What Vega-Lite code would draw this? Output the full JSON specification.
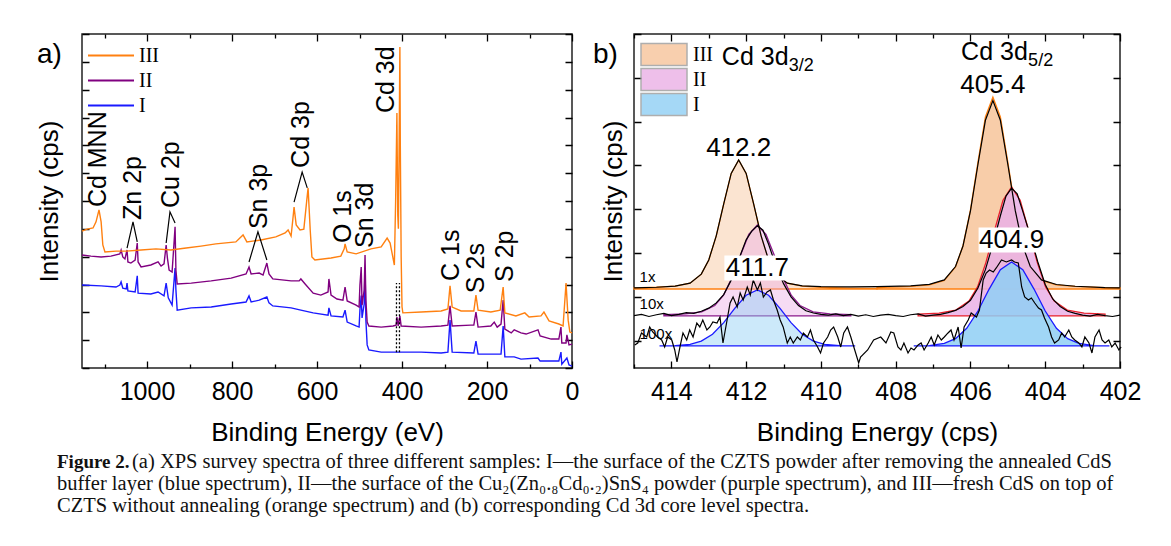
{
  "$schema": "https://vega.github.io/schema/vega-lite/v6.json",
  "padding": {"left": 35, "top": 33, "right": 5, "bottom": 0},
  "columns": 2,
  "align": "none",
  "bounds": "flush",
  "spacing": {"row": 20, "column": 62},
  "config": {
    "font": "Liberation Sans",
    "view": {"stroke": "#222", "strokeWidth": 1.5},
    "axis": {
      "domain": false, "ticks": false, "grid": true,
      "gridColor": "#000", "gridWidth": 1.3, "gridOpacity": 1,
      "labelColor": "#000", "titleColor": "#000",
      "labelFont": "Liberation Sans", "titleFont": "Liberation Sans",
      "labelFontSize": 25, "titleFontSize": 26, "titleFontWeight": "normal",
      "labelOverlap": false, "labelFlush": false
    }
  },
  "datasets": {
    "caption": [
      {"line": 1, "part": "head", "txt": "Figure 2."},
      {"line": 1, "part": "body", "txt": "(a) XPS survey spectra of three different samples: I—the surface of the CZTS powder after removing the annealed CdS"},
      {"line": 2, "part": "body", "txt": "buffer layer (blue spectrum), II—the surface of the Cu₂(Zn₀.₈Cd₀.₂)SnS₄ powder (purple spectrum), and III—fresh CdS on top of"},
      {"line": 3, "part": "body", "txt": "CZTS without annealing (orange spectrum) and (b) corresponding Cd 3d core level spectra."}
    ],
    "survey": [
      {"s":"I","e":1153,"i":29.8},{"s":"I","e":1108,"i":29.5},{"s":"I","e":1073,"i":29.1},{"s":"I","e":1064,"i":29.8},{"s":"I","e":1061,"i":30.9},{"s":"I","e":1057,"i":28.7},{"s":"I","e":1049,"i":28.4},{"s":"I","e":1047,"i":30.5},{"s":"I","e":1045,"i":27.7},{"s":"I","e":1028,"i":27.3},{"s":"I","e":1023,"i":33.1},{"s":"I","e":1021,"i":26.9},{"s":"I","e":991,"i":26.6},{"s":"I","e":974,"i":27.3},{"s":"I","e":960,"i":25.9},{"s":"I","e":955,"i":30.5},{"s":"I","e":950,"i":25.2},{"s":"I","e":941,"i":22.6},{"s":"I","e":934,"i":35.9},{"s":"I","e":932,"i":28.0},{"s":"I","e":929,"i":20.8},{"s":"I","e":896,"i":21.6},{"s":"I","e":849,"i":21.9},{"s":"I","e":802,"i":23.0},{"s":"I","e":767,"i":23.7},{"s":"I","e":760,"i":25.9},{"s":"I","e":755,"i":23.7},{"s":"I","e":736,"i":24.4},{"s":"I","e":718,"i":25.5},{"s":"I","e":713,"i":23.4},{"s":"I","e":704,"i":22.3},{"s":"I","e":661,"i":21.6},{"s":"I","e":638,"i":20.8},{"s":"I","e":609,"i":19.8},{"s":"I","e":574,"i":19.0},{"s":"I","e":572,"i":21.6},{"s":"I","e":567,"i":18.7},{"s":"I","e":539,"i":18.3},{"s":"I","e":534,"i":20.8},{"s":"I","e":529,"i":16.5},{"s":"I","e":508,"i":15.1},{"s":"I","e":501,"i":14.7},{"s":"I","e":499,"i":20.8},{"s":"I","e":496,"i":26.0},{"s":"I","e":494,"i":18.0},{"s":"I","e":489,"i":23.0},{"s":"I","e":487,"i":36.0},{"s":"I","e":485,"i":17.2},{"s":"I","e":482,"i":8.3},{"s":"I","e":478,"i":6.5},{"s":"I","e":449,"i":5.7},{"s":"I","e":402,"i":5.7},{"s":"I","e":355,"i":5.7},{"s":"I","e":308,"i":5.4},{"s":"I","e":292,"i":5.7},{"s":"I","e":287,"i":17.2},{"s":"I","e":282,"i":5.7},{"s":"I","e":231,"i":5.4},{"s":"I","e":226,"i":9.7},{"s":"I","e":221,"i":5.0},{"s":"I","e":183,"i":5.0},{"s":"I","e":167,"i":5.0},{"s":"I","e":162,"i":15.1},{"s":"I","e":158,"i":4.0},{"s":"I","e":136,"i":4.0},{"s":"I","e":120,"i":3.2},{"s":"I","e":80,"i":3.6},{"s":"I","e":75,"i":2.5},{"s":"I","e":49,"i":2.5},{"s":"I","e":31,"i":2.5},{"s":"I","e":26,"i":5.7},{"s":"I","e":24,"i":1.4},{"s":"I","e":12,"i":3.6},{"s":"I","e":7,"i":1.1},{"s":"I","e":0,"i":0.7},
      {"s":"II","e":1153,"i":40.6},{"s":"II","e":1132,"i":40.2},{"s":"II","e":1108,"i":39.9},{"s":"II","e":1085,"i":40.2},{"s":"II","e":1064,"i":41.0},{"s":"II","e":1061,"i":42.4},{"s":"II","e":1057,"i":39.9},{"s":"II","e":1052,"i":39.2},{"s":"II","e":1047,"i":42.4},{"s":"II","e":1045,"i":38.1},{"s":"II","e":1038,"i":37.7},{"s":"II","e":1028,"i":38.8},{"s":"II","e":1023,"i":44.9},{"s":"II","e":1021,"i":38.1},{"s":"II","e":1014,"i":36.3},{"s":"II","e":991,"i":37.0},{"s":"II","e":974,"i":38.1},{"s":"II","e":967,"i":36.6},{"s":"II","e":960,"i":37.4},{"s":"II","e":955,"i":44.2},{"s":"II","e":952,"i":39.5},{"s":"II","e":948,"i":35.2},{"s":"II","e":941,"i":34.5},{"s":"II","e":936,"i":46.0},{"s":"II","e":934,"i":50.7},{"s":"II","e":932,"i":35.2},{"s":"II","e":929,"i":30.2},{"s":"II","e":896,"i":30.5},{"s":"II","e":849,"i":31.3},{"s":"II","e":802,"i":32.3},{"s":"II","e":767,"i":33.8},{"s":"II","e":760,"i":36.3},{"s":"II","e":755,"i":33.8},{"s":"II","e":736,"i":34.1},{"s":"II","e":727,"i":33.4},{"s":"II","e":718,"i":37.7},{"s":"II","e":713,"i":33.8},{"s":"II","e":704,"i":32.0},{"s":"II","e":661,"i":31.3},{"s":"II","e":642,"i":31.3},{"s":"II","e":638,"i":32.0},{"s":"II","e":628,"i":30.2},{"s":"II","e":609,"i":26.9},{"s":"II","e":591,"i":26.2},{"s":"II","e":574,"i":27.3},{"s":"II","e":572,"i":32.0},{"s":"II","e":567,"i":26.2},{"s":"II","e":553,"i":24.8},{"s":"II","e":539,"i":24.4},{"s":"II","e":534,"i":29.1},{"s":"II","e":529,"i":24.1},{"s":"II","e":508,"i":22.6},{"s":"II","e":501,"i":21.9},{"s":"II","e":499,"i":29.8},{"s":"II","e":496,"i":36.3},{"s":"II","e":494,"i":22.6},{"s":"II","e":489,"i":28.0},{"s":"II","e":487,"i":40.6},{"s":"II","e":485,"i":24.4},{"s":"II","e":482,"i":16.5},{"s":"II","e":478,"i":15.1},{"s":"II","e":449,"i":14.7},{"s":"II","e":421,"i":15.1},{"s":"II","e":414,"i":15.4},{"s":"II","e":412,"i":18.3},{"s":"II","e":409,"i":15.1},{"s":"II","e":405,"i":18.7},{"s":"II","e":402,"i":15.1},{"s":"II","e":355,"i":14.7},{"s":"II","e":308,"i":15.1},{"s":"II","e":292,"i":15.4},{"s":"II","e":287,"i":22.3},{"s":"II","e":282,"i":15.1},{"s":"II","e":238,"i":15.4},{"s":"II","e":231,"i":15.4},{"s":"II","e":226,"i":20.1},{"s":"II","e":221,"i":14.7},{"s":"II","e":191,"i":15.1},{"s":"II","e":183,"i":16.5},{"s":"II","e":176,"i":14.7},{"s":"II","e":167,"i":15.8},{"s":"II","e":162,"i":24.4},{"s":"II","e":158,"i":14.0},{"s":"II","e":143,"i":12.6},{"s":"II","e":136,"i":13.7},{"s":"II","e":120,"i":12.6},{"s":"II","e":108,"i":12.2},{"s":"II","e":80,"i":13.7},{"s":"II","e":75,"i":11.5},{"s":"II","e":49,"i":10.4},{"s":"II","e":31,"i":10.4},{"s":"II","e":26,"i":14.7},{"s":"II","e":24,"i":9.0},{"s":"II","e":14,"i":9.0},{"s":"II","e":12,"i":11.9},{"s":"II","e":7,"i":8.3},{"s":"II","e":0,"i":8.6},
      {"s":"III","e":1153,"i":49.2},{"s":"III","e":1141,"i":49.9},{"s":"III","e":1127,"i":50.3},{"s":"III","e":1120,"i":52.5},{"s":"III","e":1113,"i":56.8},{"s":"III","e":1108,"i":52.5},{"s":"III","e":1104,"i":44.2},{"s":"III","e":1099,"i":41.7},{"s":"III","e":1073,"i":42.0},{"s":"III","e":1049,"i":42.0},{"s":"III","e":1014,"i":42.4},{"s":"III","e":979,"i":42.8},{"s":"III","e":944,"i":42.4},{"s":"III","e":908,"i":43.1},{"s":"III","e":873,"i":43.8},{"s":"III","e":838,"i":44.6},{"s":"III","e":791,"i":45.3},{"s":"III","e":774,"i":47.8},{"s":"III","e":765,"i":45.3},{"s":"III","e":732,"i":46.0},{"s":"III","e":697,"i":47.1},{"s":"III","e":675,"i":48.5},{"s":"III","e":668,"i":49.6},{"s":"III","e":661,"i":47.4},{"s":"III","e":657,"i":53.2},{"s":"III","e":654,"i":57.8},{"s":"III","e":649,"i":51.4},{"s":"III","e":640,"i":49.6},{"s":"III","e":631,"i":49.9},{"s":"III","e":624,"i":60.4},{"s":"III","e":621,"i":64.7},{"s":"III","e":616,"i":49.6},{"s":"III","e":612,"i":39.9},{"s":"III","e":605,"i":38.8},{"s":"III","e":567,"i":39.5},{"s":"III","e":544,"i":40.2},{"s":"III","e":536,"i":42.8},{"s":"III","e":534,"i":44.6},{"s":"III","e":529,"i":41.7},{"s":"III","e":508,"i":41.0},{"s":"III","e":473,"i":42.8},{"s":"III","e":449,"i":43.5},{"s":"III","e":435,"i":46.7},{"s":"III","e":428,"i":44.9},{"s":"III","e":418,"i":37.0},{"s":"III","e":415,"i":60.0},{"s":"III","e":412,"i":91.6},{"s":"III","e":410,"i":55.0},{"s":"III","e":408.5,"i":50.0},{"s":"III","e":407,"i":75.0},{"s":"III","e":405,"i":115.3},{"s":"III","e":404,"i":80.0},{"s":"III","e":402,"i":40.0},{"s":"III","e":400,"i":22.0},{"s":"III","e":398,"i":19.8},{"s":"III","e":355,"i":20.1},{"s":"III","e":308,"i":20.5},{"s":"III","e":292,"i":21.2},{"s":"III","e":287,"i":29.5},{"s":"III","e":282,"i":21.9},{"s":"III","e":261,"i":20.5},{"s":"III","e":231,"i":20.5},{"s":"III","e":226,"i":26.2},{"s":"III","e":221,"i":20.8},{"s":"III","e":191,"i":20.1},{"s":"III","e":169,"i":20.8},{"s":"III","e":162,"i":29.1},{"s":"III","e":158,"i":19.8},{"s":"III","e":132,"i":18.7},{"s":"III","e":111,"i":19.8},{"s":"III","e":101,"i":18.3},{"s":"III","e":73,"i":18.7},{"s":"III","e":66,"i":20.1},{"s":"III","e":54,"i":16.9},{"s":"III","e":31,"i":15.8},{"s":"III","e":21,"i":15.1},{"s":"III","e":14,"i":30.5},{"s":"III","e":9,"i":17.2},{"s":"III","e":5,"i":12.9},{"s":"III","e":0,"i":12.6}
    ],
    "leaders": [
      {"g":"Zn 2p","k":1,"e":1047,"i":43.1},{"g":"Zn 2p","k":2,"e":1033,"i":52.5},{"g":"Zn 2p","k":3,"e":1023,"i":45.3},
      {"g":"Cu 2p","k":1,"e":955,"i":44.9},{"g":"Cu 2p","k":2,"e":946,"i":56.1},{"g":"Cu 2p","k":3,"e":934,"i":52.1},
      {"g":"Sn 3p","k":1,"e":760,"i":38.1},{"g":"Sn 3p","k":2,"e":739,"i":48.9},{"g":"Sn 3p","k":3,"e":718,"i":38.8},
      {"g":"Cd 3p","k":1,"e":654,"i":59.6},{"g":"Cd 3p","k":2,"e":635,"i":70.4},{"g":"Cd 3p","k":3,"e":623,"i":64.7}
    ],
    "dotted": [
      {"e": 413, "i": 5.7, "hi": 30.5},
      {"e": 406, "i": 5.7, "hi": 30.5}
    ],
    "peaks": [
      {"t":"Cd MNN","e":1115,"i":57.8},{"t":"Zn 2p","e":1033,"i":53.2},{"t":"Cu 2p","e":944,"i":57.5},
      {"t":"Sn 3p","e":736,"i":49.9},{"t":"Cd 3p","e":638,"i":71.9},{"t":"Cd 3d","e":438,"i":91.6},
      {"t":"O 1s","e":539,"i":44.9},{"t":"Sn 3d","e":487,"i":43.1},{"t":"C 1s","e":285,"i":31.3},
      {"t":"S 2s","e":226,"i":26.9},{"t":"S 2p","e":158,"i":30.9}
    ],
    "comps": [
      {"s":"III","pk":"3/2","comp":"III 3/2","base":1.178,"be":415.0,"y":1.204},{"s":"III","pk":"3/2","comp":"III 3/2","base":1.178,"be":414.4,"y":1.218},{"s":"III","pk":"3/2","comp":"III 3/2","base":1.178,"be":413.9,"y":1.243},{"s":"III","pk":"3/2","comp":"III 3/2","base":1.178,"be":413.5,"y":1.311},{"s":"III","pk":"3/2","comp":"III 3/2","base":1.178,"be":413.2,"y":1.517},{"s":"III","pk":"3/2","comp":"III 3/2","base":1.178,"be":413.0,"y":1.841},{"s":"III","pk":"3/2","comp":"III 3/2","base":1.178,"be":412.8,"y":2.391},{"s":"III","pk":"3/2","comp":"III 3/2","base":1.178,"be":412.6,"y":3.122},{"s":"III","pk":"3/2","comp":"III 3/2","base":1.178,"be":412.4,"y":3.817},{"s":"III","pk":"3/2","comp":"III 3/2","base":1.178,"be":412.2,"y":4.123},{"s":"III","pk":"3/2","comp":"III 3/2","base":1.178,"be":412.0,"y":3.817},{"s":"III","pk":"3/2","comp":"III 3/2","base":1.178,"be":411.8,"y":3.122},{"s":"III","pk":"3/2","comp":"III 3/2","base":1.178,"be":411.6,"y":2.391},{"s":"III","pk":"3/2","comp":"III 3/2","base":1.178,"be":411.4,"y":1.841},{"s":"III","pk":"3/2","comp":"III 3/2","base":1.178,"be":411.2,"y":1.517},{"s":"III","pk":"3/2","comp":"III 3/2","base":1.178,"be":410.9,"y":1.311},{"s":"III","pk":"3/2","comp":"III 3/2","base":1.178,"be":410.5,"y":1.243},{"s":"III","pk":"3/2","comp":"III 3/2","base":1.178,"be":410.0,"y":1.218},{"s":"III","pk":"3/2","comp":"III 3/2","base":1.178,"be":409.2,"y":1.2},{"s":"III","pk":"3/2","comp":"III 3/2","base":1.178,"be":408.5,"y":1.19},
      {"s":"III","pk":"5/2","comp":"III 5/2","base":1.178,"be":408.5,"y":1.208},{"s":"III","pk":"5/2","comp":"III 5/2","base":1.178,"be":407.6,"y":1.237},{"s":"III","pk":"5/2","comp":"III 5/2","base":1.178,"be":407.1,"y":1.274},{"s":"III","pk":"5/2","comp":"III 5/2","base":1.178,"be":406.7,"y":1.375},{"s":"III","pk":"5/2","comp":"III 5/2","base":1.178,"be":406.4,"y":1.682},{"s":"III","pk":"5/2","comp":"III 5/2","base":1.178,"be":406.2,"y":2.164},{"s":"III","pk":"5/2","comp":"III 5/2","base":1.178,"be":406.0,"y":2.984},{"s":"III","pk":"5/2","comp":"III 5/2","base":1.178,"be":405.8,"y":4.071},{"s":"III","pk":"5/2","comp":"III 5/2","base":1.178,"be":405.6,"y":5.106},{"s":"III","pk":"5/2","comp":"III 5/2","base":1.178,"be":405.4,"y":5.562},{"s":"III","pk":"5/2","comp":"III 5/2","base":1.178,"be":405.2,"y":5.106},{"s":"III","pk":"5/2","comp":"III 5/2","base":1.178,"be":405.0,"y":4.071},{"s":"III","pk":"5/2","comp":"III 5/2","base":1.178,"be":404.8,"y":2.984},{"s":"III","pk":"5/2","comp":"III 5/2","base":1.178,"be":404.6,"y":2.164},{"s":"III","pk":"5/2","comp":"III 5/2","base":1.178,"be":404.4,"y":1.682},{"s":"III","pk":"5/2","comp":"III 5/2","base":1.178,"be":404.1,"y":1.375},{"s":"III","pk":"5/2","comp":"III 5/2","base":1.178,"be":403.7,"y":1.274},{"s":"III","pk":"5/2","comp":"III 5/2","base":1.178,"be":403.2,"y":1.237},{"s":"III","pk":"5/2","comp":"III 5/2","base":1.178,"be":402.4,"y":1.211},{"s":"III","pk":"5/2","comp":"III 5/2","base":1.178,"be":402.0,"y":1.205},
      {"s":"II","pk":"3/2","comp":"II 3/2","base":0.562,"be":414.2,"y":0.59},{"s":"II","pk":"3/2","comp":"II 3/2","base":0.562,"be":413.64,"y":0.608},{"s":"II","pk":"3/2","comp":"II 3/2","base":0.562,"be":413.19,"y":0.655},{"s":"II","pk":"3/2","comp":"II 3/2","base":0.562,"be":412.84,"y":0.801},{"s":"II","pk":"3/2","comp":"II 3/2","base":0.562,"be":412.61,"y":1.029},{"s":"II","pk":"3/2","comp":"II 3/2","base":0.562,"be":412.39,"y":1.418},{"s":"II","pk":"3/2","comp":"II 3/2","base":0.562,"be":412.16,"y":1.933},{"s":"II","pk":"3/2","comp":"II 3/2","base":0.562,"be":411.93,"y":2.423},{"s":"II","pk":"3/2","comp":"II 3/2","base":0.562,"be":411.7,"y":2.639},{"s":"II","pk":"3/2","comp":"II 3/2","base":0.562,"be":411.47,"y":2.423},{"s":"II","pk":"3/2","comp":"II 3/2","base":0.562,"be":411.24,"y":1.933},{"s":"II","pk":"3/2","comp":"II 3/2","base":0.562,"be":411.01,"y":1.418},{"s":"II","pk":"3/2","comp":"II 3/2","base":0.562,"be":410.79,"y":1.029},{"s":"II","pk":"3/2","comp":"II 3/2","base":0.562,"be":410.56,"y":0.801},{"s":"II","pk":"3/2","comp":"II 3/2","base":0.562,"be":410.21,"y":0.655},{"s":"II","pk":"3/2","comp":"II 3/2","base":0.562,"be":409.76,"y":0.608},{"s":"II","pk":"3/2","comp":"II 3/2","base":0.562,"be":409.2,"y":0.59},
      {"s":"II","pk":"5/2","comp":"II 5/2","base":0.562,"be":407.4,"y":0.602},{"s":"II","pk":"5/2","comp":"II 5/2","base":0.562,"be":406.84,"y":0.627},{"s":"II","pk":"5/2","comp":"II 5/2","base":0.562,"be":406.39,"y":0.695},{"s":"II","pk":"5/2","comp":"II 5/2","base":0.562,"be":406.04,"y":0.901},{"s":"II","pk":"5/2","comp":"II 5/2","base":0.562,"be":405.81,"y":1.225},{"s":"II","pk":"5/2","comp":"II 5/2","base":0.562,"be":405.59,"y":1.775},{"s":"II","pk":"5/2","comp":"II 5/2","base":0.562,"be":405.36,"y":2.506},{"s":"II","pk":"5/2","comp":"II 5/2","base":0.562,"be":405.13,"y":3.201},{"s":"II","pk":"5/2","comp":"II 5/2","base":0.562,"be":404.9,"y":3.507},{"s":"II","pk":"5/2","comp":"II 5/2","base":0.562,"be":404.67,"y":3.201},{"s":"II","pk":"5/2","comp":"II 5/2","base":0.562,"be":404.44,"y":2.506},{"s":"II","pk":"5/2","comp":"II 5/2","base":0.562,"be":404.21,"y":1.775},{"s":"II","pk":"5/2","comp":"II 5/2","base":0.562,"be":403.99,"y":1.225},{"s":"II","pk":"5/2","comp":"II 5/2","base":0.562,"be":403.76,"y":0.901},{"s":"II","pk":"5/2","comp":"II 5/2","base":0.562,"be":403.41,"y":0.695},{"s":"II","pk":"5/2","comp":"II 5/2","base":0.562,"be":402.96,"y":0.627},{"s":"II","pk":"5/2","comp":"II 5/2","base":0.562,"be":402.4,"y":0.602},
      {"s":"I","pk":"3/2","comp":"I 3/2","base":-0.123,"be":414.3,"y":-0.122},{"s":"I","pk":"3/2","comp":"I 3/2","base":-0.123,"be":413.9,"y":-0.116},{"s":"I","pk":"3/2","comp":"I 3/2","base":-0.123,"be":413.5,"y":-0.085},{"s":"I","pk":"3/2","comp":"I 3/2","base":-0.123,"be":413.2,"y":-0.012},{"s":"I","pk":"3/2","comp":"I 3/2","base":-0.123,"be":412.9,"y":0.145},{"s":"I","pk":"3/2","comp":"I 3/2","base":-0.123,"be":412.6,"y":0.409},{"s":"I","pk":"3/2","comp":"I 3/2","base":-0.123,"be":412.3,"y":0.742},{"s":"I","pk":"3/2","comp":"I 3/2","base":-0.123,"be":412.0,"y":1.036},{"s":"I","pk":"3/2","comp":"I 3/2","base":-0.123,"be":411.7,"y":1.155},{"s":"I","pk":"3/2","comp":"I 3/2","base":-0.123,"be":411.4,"y":1.036},{"s":"I","pk":"3/2","comp":"I 3/2","base":-0.123,"be":411.1,"y":0.742},{"s":"I","pk":"3/2","comp":"I 3/2","base":-0.123,"be":410.8,"y":0.409},{"s":"I","pk":"3/2","comp":"I 3/2","base":-0.123,"be":410.5,"y":0.145},{"s":"I","pk":"3/2","comp":"I 3/2","base":-0.123,"be":410.2,"y":-0.012},{"s":"I","pk":"3/2","comp":"I 3/2","base":-0.123,"be":409.9,"y":-0.085},{"s":"I","pk":"3/2","comp":"I 3/2","base":-0.123,"be":409.5,"y":-0.116},{"s":"I","pk":"3/2","comp":"I 3/2","base":-0.123,"be":409.1,"y":-0.122},
      {"s":"I","pk":"5/2","comp":"I 5/2","base":-0.123,"be":407.5,"y":-0.122},{"s":"I","pk":"5/2","comp":"I 5/2","base":-0.123,"be":407.1,"y":-0.113},{"s":"I","pk":"5/2","comp":"I 5/2","base":-0.123,"be":406.7,"y":-0.065},{"s":"I","pk":"5/2","comp":"I 5/2","base":-0.123,"be":406.4,"y":0.044},{"s":"I","pk":"5/2","comp":"I 5/2","base":-0.123,"be":406.1,"y":0.28},{"s":"I","pk":"5/2","comp":"I 5/2","base":-0.123,"be":405.8,"y":0.675},{"s":"I","pk":"5/2","comp":"I 5/2","base":-0.123,"be":405.5,"y":1.176},{"s":"I","pk":"5/2","comp":"I 5/2","base":-0.123,"be":405.2,"y":1.617},{"s":"I","pk":"5/2","comp":"I 5/2","base":-0.123,"be":404.9,"y":1.795},{"s":"I","pk":"5/2","comp":"I 5/2","base":-0.123,"be":404.6,"y":1.617},{"s":"I","pk":"5/2","comp":"I 5/2","base":-0.123,"be":404.3,"y":1.176},{"s":"I","pk":"5/2","comp":"I 5/2","base":-0.123,"be":404.0,"y":0.675},{"s":"I","pk":"5/2","comp":"I 5/2","base":-0.123,"be":403.7,"y":0.28},{"s":"I","pk":"5/2","comp":"I 5/2","base":-0.123,"be":403.4,"y":0.044},{"s":"I","pk":"5/2","comp":"I 5/2","base":-0.123,"be":403.1,"y":-0.065},{"s":"I","pk":"5/2","comp":"I 5/2","base":-0.123,"be":402.7,"y":-0.113},{"s":"I","pk":"5/2","comp":"I 5/2","base":-0.123,"be":402.3,"y":-0.122}
    ],
    "baselines": [
      {"s":"III","y":1.178},{"s":"II","y":0.562},{"s":"I","y":-0.123}
    ],
    "traces": [
      {"s":"III fit","be":415.0,"y":1.204},{"s":"III fit","be":414.4,"y":1.218},{"s":"III fit","be":413.9,"y":1.243},{"s":"III fit","be":413.5,"y":1.311},{"s":"III fit","be":413.2,"y":1.517},{"s":"III fit","be":413.0,"y":1.841},{"s":"III fit","be":412.8,"y":2.391},{"s":"III fit","be":412.6,"y":3.122},{"s":"III fit","be":412.4,"y":3.817},{"s":"III fit","be":412.2,"y":4.123},{"s":"III fit","be":412.0,"y":3.817},{"s":"III fit","be":411.8,"y":3.122},{"s":"III fit","be":411.6,"y":2.391},{"s":"III fit","be":411.4,"y":1.841},{"s":"III fit","be":411.2,"y":1.517},{"s":"III fit","be":410.9,"y":1.311},{"s":"III fit","be":410.5,"y":1.25},{"s":"III fit","be":410.0,"y":1.23},{"s":"III fit","be":409.2,"y":1.225},{"s":"III fit","be":408.5,"y":1.23},{"s":"III fit","be":407.6,"y":1.25},{"s":"III fit","be":407.1,"y":1.285},{"s":"III fit","be":406.7,"y":1.385},{"s":"III fit","be":406.4,"y":1.69},{"s":"III fit","be":406.2,"y":2.16},{"s":"III fit","be":406.0,"y":2.96},{"s":"III fit","be":405.8,"y":4.02},{"s":"III fit","be":405.6,"y":5.03},{"s":"III fit","be":405.4,"y":5.48},{"s":"III fit","be":405.2,"y":5.03},{"s":"III fit","be":405.0,"y":4.02},{"s":"III fit","be":404.8,"y":2.96},{"s":"III fit","be":404.6,"y":2.16},{"s":"III fit","be":404.4,"y":1.69},{"s":"III fit","be":404.1,"y":1.385},{"s":"III fit","be":403.7,"y":1.28},{"s":"III fit","be":403.2,"y":1.24},{"s":"III fit","be":402.4,"y":1.21},{"s":"III fit","be":402.0,"y":1.205},
      {"s":"II 10x","be":415.0,"y":0.57},{"s":"II 10x","be":414.8,"y":0.6},{"s":"II 10x","be":414.6,"y":0.55},{"s":"II 10x","be":414.4,"y":0.59},{"s":"II 10x","be":414.2,"y":0.62},{"s":"II 10x","be":414.0,"y":0.57},{"s":"II 10x","be":413.8,"y":0.6},{"s":"II 10x","be":413.6,"y":0.64},{"s":"II 10x","be":413.4,"y":0.62},{"s":"II 10x","be":413.2,"y":0.67},{"s":"II 10x","be":413.0,"y":0.74},{"s":"II 10x","be":412.8,"y":0.86},{"s":"II 10x","be":412.6,"y":1.05},{"s":"II 10x","be":412.4,"y":1.38},{"s":"II 10x","be":412.2,"y":1.85},{"s":"II 10x","be":412.0,"y":2.3},{"s":"II 10x","be":411.85,"y":2.5},{"s":"II 10x","be":411.7,"y":2.62},{"s":"II 10x","be":411.55,"y":2.52},{"s":"II 10x","be":411.4,"y":2.2},{"s":"II 10x","be":411.2,"y":1.7},{"s":"II 10x","be":411.0,"y":1.3},{"s":"II 10x","be":410.8,"y":1.0},{"s":"II 10x","be":410.6,"y":0.8},{"s":"II 10x","be":410.4,"y":0.68},{"s":"II 10x","be":410.2,"y":0.63},{"s":"II 10x","be":410.0,"y":0.6},{"s":"II 10x","be":409.8,"y":0.58},{"s":"II 10x","be":409.6,"y":0.61},{"s":"II 10x","be":409.4,"y":0.57},{"s":"II 10x","be":409.2,"y":0.6},{"s":"II 10x","be":409.0,"y":0.56},{"s":"II 10x","be":408.8,"y":0.59},{"s":"II 10x","be":408.6,"y":0.55},{"s":"II 10x","be":408.4,"y":0.58},{"s":"II 10x","be":408.2,"y":0.6},{"s":"II 10x","be":408.0,"y":0.57},{"s":"II 10x","be":407.8,"y":0.55},{"s":"II 10x","be":407.6,"y":0.59},{"s":"II 10x","be":407.4,"y":0.61},{"s":"II 10x","be":407.2,"y":0.56},{"s":"II 10x","be":407.0,"y":0.58},{"s":"II 10x","be":406.8,"y":0.6},{"s":"II 10x","be":406.6,"y":0.64},{"s":"II 10x","be":406.4,"y":0.69},{"s":"II 10x","be":406.2,"y":0.78},{"s":"II 10x","be":406.0,"y":0.92},{"s":"II 10x","be":405.8,"y":1.2},{"s":"II 10x","be":405.6,"y":1.62},{"s":"II 10x","be":405.4,"y":2.2},{"s":"II 10x","be":405.2,"y":2.85},{"s":"II 10x","be":405.05,"y":3.3},{"s":"II 10x","be":404.9,"y":3.48},{"s":"II 10x","be":404.75,"y":3.35},{"s":"II 10x","be":404.6,"y":2.95},{"s":"II 10x","be":404.4,"y":2.4},{"s":"II 10x","be":404.2,"y":1.8},{"s":"II 10x","be":404.0,"y":1.28},{"s":"II 10x","be":403.8,"y":0.95},{"s":"II 10x","be":403.6,"y":0.78},{"s":"II 10x","be":403.4,"y":0.67},{"s":"II 10x","be":403.2,"y":0.62},{"s":"II 10x","be":403.0,"y":0.58},{"s":"II 10x","be":402.8,"y":0.56},{"s":"II 10x","be":402.6,"y":0.6},{"s":"II 10x","be":402.4,"y":0.57},{"s":"II 10x","be":402.2,"y":0.55},{"s":"II 10x","be":402.0,"y":0.58},
      {"s":"I 100x","be":414.98,"y":-0.1},{"s":"I 100x","be":414.9,"y":-0.055},{"s":"I 100x","be":414.8,"y":0.174},{"s":"I 100x","be":414.66,"y":0.082},{"s":"I 100x","be":414.58,"y":0.311},{"s":"I 100x","be":414.5,"y":0.196},{"s":"I 100x","be":414.37,"y":0.082},{"s":"I 100x","be":414.26,"y":0.014},{"s":"I 100x","be":414.18,"y":-0.146},{"s":"I 100x","be":414.1,"y":0.082},{"s":"I 100x","be":413.99,"y":0.014},{"s":"I 100x","be":413.91,"y":-0.215},{"s":"I 100x","be":413.85,"y":-0.489},{"s":"I 100x","be":413.77,"y":-0.146},{"s":"I 100x","be":413.69,"y":0.174},{"s":"I 100x","be":413.59,"y":0.014},{"s":"I 100x","be":413.51,"y":0.242},{"s":"I 100x","be":413.42,"y":0.082},{"s":"I 100x","be":413.32,"y":0.402},{"s":"I 100x","be":413.24,"y":0.311},{"s":"I 100x","be":413.16,"y":0.47},{"s":"I 100x","be":413.05,"y":0.242},{"s":"I 100x","be":412.97,"y":0.311},{"s":"I 100x","be":412.89,"y":0.425},{"s":"I 100x","be":412.78,"y":0.402},{"s":"I 100x","be":412.7,"y":0.539},{"s":"I 100x","be":412.62,"y":-0.055},{"s":"I 100x","be":412.51,"y":0.47},{"s":"I 100x","be":412.43,"y":0.858},{"s":"I 100x","be":412.35,"y":0.995},{"s":"I 100x","be":412.24,"y":0.767},{"s":"I 100x","be":412.16,"y":1.087},{"s":"I 100x","be":412.08,"y":0.927},{"s":"I 100x","be":411.97,"y":1.224},{"s":"I 100x","be":411.89,"y":1.041},{"s":"I 100x","be":411.81,"y":1.384},{"s":"I 100x","be":411.7,"y":1.155},{"s":"I 100x","be":411.62,"y":1.315},{"s":"I 100x","be":411.54,"y":0.995},{"s":"I 100x","be":411.44,"y":1.11},{"s":"I 100x","be":411.35,"y":1.155},{"s":"I 100x","be":411.27,"y":0.927},{"s":"I 100x","be":411.17,"y":0.699},{"s":"I 100x","be":411.09,"y":0.47},{"s":"I 100x","be":411.01,"y":0.311},{"s":"I 100x","be":410.9,"y":-0.055},{"s":"I 100x","be":410.82,"y":0.082},{"s":"I 100x","be":410.74,"y":-0.055},{"s":"I 100x","be":410.63,"y":0.082},{"s":"I 100x","be":410.55,"y":0.014},{"s":"I 100x","be":410.47,"y":0.174},{"s":"I 100x","be":410.36,"y":0.082},{"s":"I 100x","be":410.28,"y":0.242},{"s":"I 100x","be":410.2,"y":0.014},{"s":"I 100x","be":410.09,"y":-0.146},{"s":"I 100x","be":410.01,"y":-0.283},{"s":"I 100x","be":409.93,"y":-0.055},{"s":"I 100x","be":409.82,"y":0.082},{"s":"I 100x","be":409.74,"y":0.242},{"s":"I 100x","be":409.66,"y":0.311},{"s":"I 100x","be":409.55,"y":0.082},{"s":"I 100x","be":409.47,"y":-0.146},{"s":"I 100x","be":409.39,"y":0.174},{"s":"I 100x","be":409.29,"y":0.311},{"s":"I 100x","be":409.2,"y":0.082},{"s":"I 100x","be":409.12,"y":-0.146},{"s":"I 100x","be":408.99,"y":-0.511},{"s":"I 100x","be":408.94,"y":-0.374},{"s":"I 100x","be":408.75,"y":-0.215},{"s":"I 100x","be":408.59,"y":0.014},{"s":"I 100x","be":408.4,"y":0.082},{"s":"I 100x","be":408.26,"y":-0.055},{"s":"I 100x","be":408.13,"y":0.196},{"s":"I 100x","be":408.05,"y":0.174},{"s":"I 100x","be":407.94,"y":-0.146},{"s":"I 100x","be":407.86,"y":-0.215},{"s":"I 100x","be":407.78,"y":-0.055},{"s":"I 100x","be":407.67,"y":-0.283},{"s":"I 100x","be":407.59,"y":-0.169},{"s":"I 100x","be":407.51,"y":-0.215},{"s":"I 100x","be":407.4,"y":-0.1},{"s":"I 100x","be":407.32,"y":-0.055},{"s":"I 100x","be":407.24,"y":-0.215},{"s":"I 100x","be":407.13,"y":-0.055},{"s":"I 100x","be":407.05,"y":0.082},{"s":"I 100x","be":406.97,"y":-0.1},{"s":"I 100x","be":406.87,"y":0.128},{"s":"I 100x","be":406.78,"y":0.014},{"s":"I 100x","be":406.7,"y":0.082},{"s":"I 100x","be":406.6,"y":0.174},{"s":"I 100x","be":406.52,"y":0.242},{"s":"I 100x","be":406.44,"y":0.014},{"s":"I 100x","be":406.33,"y":0.311},{"s":"I 100x","be":406.25,"y":-0.169},{"s":"I 100x","be":406.17,"y":0.311},{"s":"I 100x","be":406.06,"y":0.47},{"s":"I 100x","be":405.98,"y":0.63},{"s":"I 100x","be":405.84,"y":0.539},{"s":"I 100x","be":405.76,"y":0.699},{"s":"I 100x","be":405.66,"y":1.384},{"s":"I 100x","be":405.58,"y":1.543},{"s":"I 100x","be":405.49,"y":1.612},{"s":"I 100x","be":405.39,"y":1.566},{"s":"I 100x","be":405.31,"y":1.658},{"s":"I 100x","be":405.17,"y":1.84},{"s":"I 100x","be":405.04,"y":1.795},{"s":"I 100x","be":404.9,"y":1.84},{"s":"I 100x","be":404.82,"y":1.795},{"s":"I 100x","be":404.72,"y":1.772},{"s":"I 100x","be":404.63,"y":1.224},{"s":"I 100x","be":404.55,"y":0.995},{"s":"I 100x","be":404.45,"y":0.927},{"s":"I 100x","be":404.37,"y":0.973},{"s":"I 100x","be":404.28,"y":0.858},{"s":"I 100x","be":404.18,"y":0.744},{"s":"I 100x","be":404.1,"y":0.699},{"s":"I 100x","be":404.02,"y":0.516},{"s":"I 100x","be":403.91,"y":0.311},{"s":"I 100x","be":403.83,"y":0.082},{"s":"I 100x","be":403.75,"y":-0.055},{"s":"I 100x","be":403.64,"y":0.014},{"s":"I 100x","be":403.56,"y":0.174},{"s":"I 100x","be":403.48,"y":0.082},{"s":"I 100x","be":403.37,"y":0.242},{"s":"I 100x","be":403.29,"y":0.082},{"s":"I 100x","be":403.21,"y":0.014},{"s":"I 100x","be":403.1,"y":-0.055},{"s":"I 100x","be":403.02,"y":-0.146},{"s":"I 100x","be":402.94,"y":0.082},{"s":"I 100x","be":402.83,"y":-0.055},{"s":"I 100x","be":402.75,"y":-0.283},{"s":"I 100x","be":402.67,"y":0.082},{"s":"I 100x","be":402.56,"y":0.242},{"s":"I 100x","be":402.48,"y":0.014},{"s":"I 100x","be":402.4,"y":-0.055},{"s":"I 100x","be":402.3,"y":0.014},{"s":"I 100x","be":402.22,"y":-0.146},{"s":"I 100x","be":402.13,"y":-0.055},{"s":"I 100x","be":402.03,"y":-0.215},{"s":"I 100x","be":401.97,"y":-0.146}
    ],
    "peakValues": [
      {"t":"412.2","row":"upper","be":412.2,"y":4.123},
      {"t":"405.4","row":"upper","be":405.4,"y":5.562},
      {"t":"411.7","row":"lower","be":411.7,"y":1.155},
      {"t":"404.9","row":"lower","be":404.9,"y":1.795}
    ],
    "levels": [
      {"main":"Cd 3d","sub":"3/2","be":412.65,"y":6.475},
      {"main":"Cd 3d","sub":"5/2","be":406.25,"y":6.59}
    ],
    "gains": [
      {"t":"1x","be":414.85,"y":1.178},
      {"t":"10x","be":414.85,"y":0.562},
      {"t":"100x","be":414.85,"y":-0.123}
    ]
  },
  "concat": [
    {
      "width": 490, "height": 334,
      "title": {"text": "a)", "anchor": "start", "frame": "group", "fontSize": 28, "fontWeight": "normal", "font": "Liberation Sans", "color": "#000", "dx": -45, "dy": 49, "offset": 0, "baseline": "middle"},
      "encoding": {
        "x": {"field": "e", "type": "quantitative",
              "scale": {"domain": [0, 1153], "reverse": true, "nice": false, "zero": false},
              "axis": {"values": [0,100,200,300,400,500,600,700,800,900,1000,1100], "format": "d",
                       "labelExpr": "datum.value % 200 === 0 ? datum.label : ''",
                       "labelPadding": 11, "title": "Binding Energy (eV)", "titlePadding": 15,
                       "gridDash": {"condition": {"test": "datum.value % 200 === 0", "value": [7, 320, 7, 1000]}, "value": [4, 326, 4, 1000]}}},
        "y": {"field": "i", "type": "quantitative",
              "scale": {"domain": [0, 120], "nice": false, "zero": false},
              "axis": {"values": [0,10,20,30,40,50,60,70,80,90,100,110,120], "labels": false,
                       "title": "Intensity (cps)", "titlePadding": 20, "gridDash": [7, 476, 7, 1000]}}
      },
      "layer": [
        {
          "data": {"name": "survey"},
          "mark": {"type": "line", "strokeWidth": 1.4},
          "encoding": {
            "color": {"field": "s", "type": "nominal",
                      "scale": {"domain": ["III", "II", "I"], "range": ["#ff8010", "#800080", "#1a1aff"]},
                      "legend": {"orient": "none", "legendX": 5, "legendY": 9, "title": null, "symbolType": "stroke",
                                 "symbolSize": 2116, "symbolStrokeWidth": 1.8, "labelFont": "Liberation Serif",
                                 "labelFontSize": 20, "labelColor": "#000", "labelOffset": 4, "clipHeight": 25,
                                 "rowPadding": 0, "padding": 0}},
            "order": {"field": "e", "type": "quantitative"}
          }
        },
        {
          "data": {"name": "leaders"},
          "mark": {"type": "line", "color": "#000", "strokeWidth": 1.2},
          "encoding": {
            "detail": {"field": "g"},
            "order": {"field": "k", "type": "quantitative"}
          }
        },
        {
          "data": {"name": "dotted"},
          "mark": {"type": "rule", "color": "#000", "strokeWidth": 1.3, "strokeDash": [2, 2]},
          "encoding": {
            "y2": {"field": "hi"}
          }
        },
        {
          "data": {"name": "peaks"},
          "mark": {"type": "text", "angle": 270, "align": "left", "baseline": "middle", "fontSize": 25, "color": "#000"},
          "encoding": {
            "text": {"field": "t"}
          }
        }
      ]
    },
    {
      "width": 486, "height": 334,
      "title": {"text": "b)", "anchor": "start", "frame": "group", "fontSize": 28, "fontWeight": "normal", "font": "Liberation Sans", "color": "#000", "dx": -41, "dy": 49, "offset": 0, "baseline": "middle"},
      "resolve": {"scale": {"stroke": "independent"}},
      "encoding": {
        "x": {"field": "be", "type": "quantitative",
              "scale": {"domain": [402, 415], "reverse": true, "nice": false, "zero": false},
              "axis": {"values": [402,403,404,405,406,407,408,409,410,411,412,413,414,415],
                       "labelExpr": "datum.value % 2 === 0 ? datum.label : ''",
                       "labelPadding": 11, "title": "Binding Energy (cps)", "titlePadding": 15,
                       "gridDash": {"condition": {"test": "datum.value % 2 === 0", "value": [7, 320, 7, 1000]}, "value": [4, 326, 4, 1000]}}},
        "y": {"field": "y", "type": "quantitative",
              "scale": {"domain": [-0.626, 7], "nice": false, "zero": false},
              "axis": {"values": [0,1,2,3,4,5,6,7], "labels": false, "title": "Intensity (cps)", "titlePadding": 8,
                       "gridDash": [7, 472, 7, 1000]}}
      },
      "layer": [
        {
          "data": {"name": "comps"},
          "mark": {"type": "area", "strokeWidth": 1.3},
          "encoding": {
            "y2": {"field": "base"},
            "fill": {"field": "s", "type": "nominal",
                     "scale": {"domain": ["I", "II", "III"], "range": ["#8fcff4", "#eab0e6", "#f7c49a"]},
                     "legend": {"orient": "none", "legendX": 558, "legendY": 8, "title": null, "values": ["III", "II", "I"],
                                "symbolType": "M-1,-0.48H1V0.48H-1Z", "symbolSize": 2116,
                                "symbolStrokeColor": "#9a9a9a", "symbolStrokeWidth": 1.5, "symbolOpacity": 0.8,
                                "labelFont": "Liberation Serif", "labelFontSize": 20, "labelColor": "#000",
                                "labelOffset": 5, "clipHeight": 25, "rowPadding": 0, "padding": 0}},
            "fillOpacity": {"field": "pk", "type": "nominal", "scale": {"domain": ["3/2", "5/2"], "range": [0.45, 0.85]}, "legend": null},
            "stroke": {"field": "comp", "type": "nominal",
                       "scale": {"domain": ["III 3/2", "III 5/2", "II 3/2", "II 5/2", "I 3/2", "I 5/2"],
                                 "range": ["#ff8010", "#ff8010", "#8b1a8b", "#e8202a", "#1a1aff", "#1a1aff"]},
                       "legend": null}
          }
        },
        {
          "data": {"name": "baselines"},
          "mark": {"type": "rule", "strokeWidth": 1.3},
          "encoding": {
            "x": {"datum": 415},
            "x2": {"datum": 402},
            "stroke": {"field": "s", "type": "nominal",
                       "scale": {"domain": ["III", "II", "I"], "range": ["#ff8010", "#ff3030", "#1a1aff"]},
                       "legend": null}
          }
        },
        {
          "data": {"name": "traces"},
          "mark": {"type": "line", "color": "#000", "strokeWidth": 1.2},
          "encoding": {
            "detail": {"field": "s"}
          }
        },
        {
          "data": {"name": "peakValues"},
          "transform": [{"filter": "datum.row === 'lower'"}],
          "mark": {"type": "point", "shape": "M-1,-1.045H1V-0.288H-1Z", "size": 4356, "filled": true, "fill": "#fff", "opacity": 1, "strokeWidth": 0}
        },
        {
          "data": {"name": "peakValues"},
          "transform": [{"filter": "datum.row === 'upper'"}],
          "mark": {"type": "text", "baseline": "middle", "fontSize": 26, "dy": -12, "color": "#000"},
          "encoding": {"text": {"field": "t"}}
        },
        {
          "data": {"name": "peakValues"},
          "transform": [{"filter": "datum.row === 'lower'"}],
          "mark": {"type": "text", "baseline": "middle", "fontSize": 26, "dy": -22, "color": "#000"},
          "encoding": {"text": {"field": "t"}}
        },
        {
          "data": {"name": "levels"},
          "mark": {"type": "text", "align": "left", "baseline": "middle", "fontSize": 25, "color": "#000"},
          "encoding": {"text": {"field": "main"}}
        },
        {
          "data": {"name": "levels"},
          "mark": {"type": "text", "align": "left", "baseline": "middle", "fontSize": 18, "dx": 67, "dy": 9, "color": "#000"},
          "encoding": {"text": {"field": "sub"}}
        },
        {
          "data": {"name": "gains"},
          "mark": {"type": "text", "align": "left", "baseline": "middle", "fontSize": 15, "dy": -12, "color": "#000"},
          "encoding": {"text": {"field": "t"}}
        }
      ]
    },
    {
      "width": 490,
      "height": 140,
      "view": {"stroke": null},
      "data": {"name": "caption"},
      "encoding": {
        "x": {"datum": 0, "type": "quantitative", "scale": {"domain": [0.04854, 1], "nice": false, "zero": false}, "axis": null},
        "y": {"field": "line", "type": "quantitative", "scale": {"domain": [-2.364, 4.0], "reverse": true, "nice": false, "zero": false}, "axis": null},
        "text": {"field": "txt"}
      },
      "layer": [
        {"transform": [{"filter": "datum.part === 'head'"}],
         "mark": {"type": "text", "align": "left", "baseline": "middle", "font": "Liberation Serif", "fontSize": 19, "fontWeight": "bold", "color": "#111"}},
        {"transform": [{"filter": "datum.part === 'body' && datum.line === 1"}],
         "mark": {"type": "text", "align": "left", "baseline": "middle", "font": "Liberation Serif", "fontSize": 20.5, "dx": 75, "color": "#111"}},
        {"transform": [{"filter": "datum.part === 'body' && datum.line > 1"}],
         "mark": {"type": "text", "align": "left", "baseline": "middle", "font": "Liberation Serif", "fontSize": 20.5, "color": "#111"}}
      ]
    }
  ]
}
